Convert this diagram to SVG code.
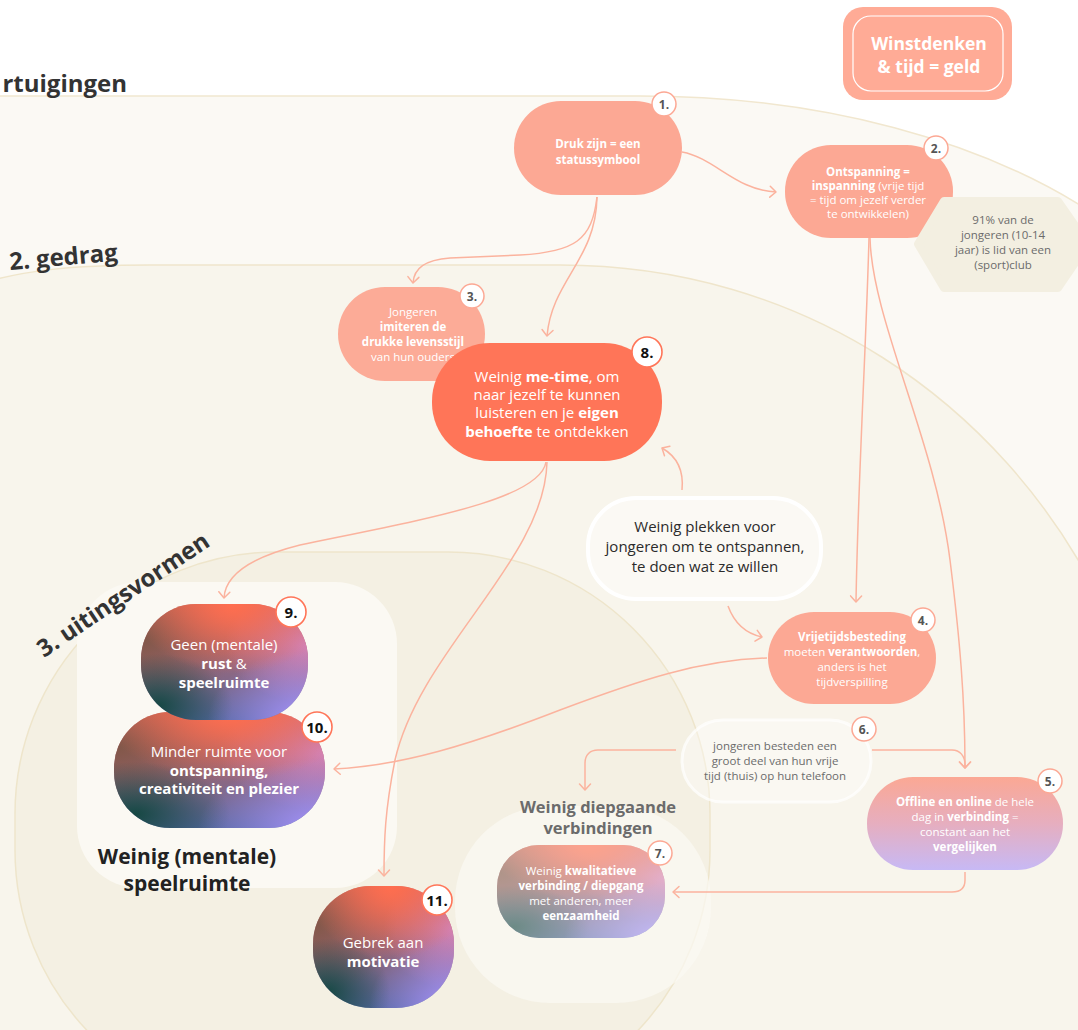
<svg xmlns="http://www.w3.org/2000/svg" width="1078" height="1030" viewBox="0 0 1078 1030">
  <defs>
    <style>
      text{font-family:"Open Sans","Liberation Sans",sans-serif;text-anchor:middle}
      .tn{fill:#fff;font-size:11.5px}
      .tb{fill:#fff;font-size:15px}
      .b{font-weight:700}
      .salmon{fill:#fca894}
      .badge circle{fill:#fff;stroke:#fca894;stroke-width:1.5}
      .badge text{font-size:12px;font-weight:700;fill:#555}
      .badge-l circle{fill:#fff;stroke:#ff7558;stroke-width:1.6}
      .badge-l text{font-size:15px;font-weight:700;fill:#111}
      .grey{fill:#6b6b6b;font-size:11.5px}
      .dark{fill:#2b2b2b;font-size:15px}
      .ltitle{font-size:24px;font-weight:700;fill:#333}
      #connectors path{fill:none;stroke:#fbb39e;stroke-width:1.5;marker-end:url(#arr)}
    </style>
    <marker id="arr" viewBox="-8 -7 10 14" markerWidth="10" markerHeight="14" refX="0" refY="0" orient="auto" markerUnits="userSpaceOnUse">
      <path d="M-6,-5.5 L0,0 L-6,5.5" fill="none" stroke="#fbb39e" stroke-width="1.5" stroke-linecap="round" stroke-linejoin="round"/>
    </marker>
    <!-- layered gradients for the dark blob nodes -->
    <linearGradient id="blobBase" x1="0" y1="0" x2="0" y2="1">
      <stop offset="0" stop-color="#d8685a"/>
      <stop offset="1" stop-color="#5668a0"/>
    </linearGradient>
    <radialGradient id="blobBrown" cx="0" cy="0.3" r="0.6">
      <stop offset="0" stop-color="#7e5646" stop-opacity="0.95"/>
      <stop offset="1" stop-color="#7e5646" stop-opacity="0"/>
    </radialGradient>
    <radialGradient id="blobPink" cx="1" cy="0.35" r="0.5">
      <stop offset="0" stop-color="#d383b8"/>
      <stop offset="1" stop-color="#d383b8" stop-opacity="0"/>
    </radialGradient>
    <radialGradient id="blobTeal" cx="0.1" cy="0.88" r="0.45">
      <stop offset="0" stop-color="#164843"/>
      <stop offset="1" stop-color="#164843" stop-opacity="0"/>
    </radialGradient>
    <radialGradient id="blobLav" cx="1" cy="1" r="0.6">
      <stop offset="0" stop-color="#ab95ff"/>
      <stop offset="1" stop-color="#ab95ff" stop-opacity="0"/>
    </radialGradient>
    <radialGradient id="blobTop" cx="0.55" cy="0" r="0.6">
      <stop offset="0" stop-color="#ff6e4f"/>
      <stop offset="1" stop-color="#ff6e4f" stop-opacity="0"/>
    </radialGradient>
    <linearGradient id="fade5" x1="0" y1="0" x2="0" y2="1">
      <stop offset="0" stop-color="#fba894"/>
      <stop offset="0.5" stop-color="#e6aebf"/>
      <stop offset="1" stop-color="#c7b9f5"/>
    </linearGradient>
    <rect id="s9" x="141" y="604" width="167" height="116" rx="55"/>
    <rect id="s10" x="114" y="712" width="211" height="116" rx="56"/>
    <rect id="s11" x="313" y="886" width="141" height="122" rx="58"/>
    <rect id="s7" x="497" y="845" width="168" height="93" rx="42"/>
  </defs>

  <!-- background layers -->
  <rect x="0" y="0" width="1078" height="1030" fill="#ffffff"/>
  <path d="M-20 96 H640 C820 96 985 140 1100 218 V1050 H-20 Z" fill="#fbf9f4" stroke="#f1e7cf" stroke-width="1.5"/>
  <path d="M-20 284 C20 271 70 265 150 265 H560 C800 265 1000 400 1100 600 V1050 H-20 Z" fill="#f8f5ec" stroke="#efe5cb" stroke-width="1.5"/>
  <rect x="15" y="552" width="695" height="560" rx="262" fill="#f4f0e3" stroke="#eee5cb" stroke-width="1.5"/>
  <rect x="77" y="582" width="320" height="306" rx="62" fill="#fbf9f3"/>
  <rect x="455" y="806" width="256" height="197" rx="95" fill="#fbf9f3" fill-opacity="0.7"/>

  <text class="ltitle" x="127" y="92" style="text-anchor:end">rtuigingen</text>
  <text class="ltitle" x="10" y="270" style="text-anchor:start" transform="rotate(-5 10 270)">2. gedrag</text>
  <text class="ltitle" x="44" y="658" style="text-anchor:start" transform="rotate(-34 44 658)">3. uitingsvormen</text>

  <text x="187" y="864" style="font-size:21px;font-weight:700;fill:#222">Weinig (mentale)</text>
  <text x="187" y="891" style="font-size:21px;font-weight:700;fill:#222">speelruimte</text>
  <text x="598" y="813" style="font-size:16.5px;font-weight:700;fill:#6b6b6b">Weinig diepgaande</text>
  <text x="598" y="834" style="font-size:16.5px;font-weight:700;fill:#6b6b6b">verbindingen</text>

  <!-- connectors -->
  <g id="connectors">
    <path d="M682 152 C715 158 735 190 776 192"/>
    <path d="M597 197 C592 240 575 252 520 255 L450 258 C425 260 414 268 413 283"/>
    <path d="M597 197 C596 260 552 280 547 336"/>
    <path d="M869 238 C866 350 858 480 856 602"/>
    <path d="M870 238 C872 320 935 440 950 560 C960 640 965 700 965 768"/>
    <path d="M546 462 C540 500 420 520 300 545 C240 560 225 580 224 598"/>
    <path d="M547 462 C545 560 420 650 395 760 C385 810 384 840 384 876"/>
    <path d="M682 490 C684 470 676 456 662 448"/>
    <path d="M728 606 C735 625 748 634 762 637"/>
    <path d="M767 658 C700 660 640 680 560 710 C470 745 400 766 334 769"/>
    <path d="M676 750 H598 C590 750 585 755 585 763 V790"/>
    <path d="M872 750 H952 C960 750 965 756 965 765 V768"/>
    <path d="M965 872 V880 C965 888 960 892 952 892 H673"/>
  </g>

  <!-- Winstdenken -->
  <g id="winstdenken">
    <rect x="843" y="7" width="169" height="93" rx="20" fill="#ffab96"/>
    <rect x="853" y="16" width="150" height="75" rx="18" fill="none" stroke="#fff" stroke-width="1.2"/>
    <text x="929" y="50" style="font-size:17.5px;font-weight:700;fill:#fff">Winstdenken</text>
    <text x="929" y="73" style="font-size:17.5px;font-weight:700;fill:#fff">&amp; tijd = geld</text>
  </g>

  <!-- 1 -->
  <g id="node1">
    <rect class="salmon" x="514" y="101" width="168" height="94" rx="47"/>
    <text class="tn b" x="598" y="148">Druk zijn = een</text>
    <text class="tn b" x="598" y="164">statussymbool</text>
    <g class="badge"><circle cx="664" cy="104" r="12"/><text x="664" y="108.5">1.</text></g>
  </g>

  <!-- 2 -->
  <g id="node2">
    <rect class="salmon" x="785" y="145" width="168" height="93" rx="46"/>
    <text class="tn" x="868" y="176"><tspan class="b">Ontspanning =</tspan></text>
    <text class="tn" x="868" y="190"><tspan class="b">inspanning</tspan> (vrije tijd</text>
    <text class="tn" x="868" y="204">= tijd om jezelf verder</text>
    <text class="tn" x="868" y="218">te ontwikkelen)</text>
    <g class="badge"><circle cx="936" cy="148" r="12"/><text x="936" y="152.5">2.</text></g>
  </g>

  <!-- side fact -->
  <g id="fact">
    <polygon points="918,244 944,201 1058,201 1088,244 1058,288 944,288" fill="#f3efe1" stroke="#f3efe1" stroke-width="8" stroke-linejoin="round"/>
    <text class="grey" x="1003" y="224">91% van de</text>
    <text class="grey" x="1003" y="239">jongeren (10-14</text>
    <text class="grey" x="1003" y="254">jaar) is lid van een</text>
    <text class="grey" x="1003" y="269">(sport)club</text>
  </g>

  <!-- 3 -->
  <g id="node3">
    <rect x="338" y="287" width="147" height="94" rx="47" fill="#fcab97"/>
    <text class="tn" x="413" y="316">Jongeren</text>
    <text class="tn b" x="413" y="331">imiteren de</text>
    <text class="tn b" x="413" y="346">drukke levensstijl</text>
    <text class="tn" x="413" y="361">van hun ouders</text>
    <g class="badge"><circle cx="472" cy="296" r="12"/><text x="472" y="300.5">3.</text></g>
  </g>

  <!-- 8 -->
  <g id="node8">
    <rect x="432" y="343" width="230" height="118" rx="58" fill="#ff7558"/>
    <text class="tb" x="547" y="382">Weinig <tspan class="b">me-time</tspan>, om</text>
    <text class="tb" x="547" y="400">naar jezelf te kunnen</text>
    <text class="tb" x="547" y="418">luisteren en je <tspan class="b">eigen</tspan></text>
    <text class="tb" x="547" y="437"><tspan class="b">behoefte</tspan> te ontdekken</text>
    <g class="badge-l"><circle cx="647" cy="352" r="15"/><text x="647" y="357.5">8.</text></g>
  </g>

  <!-- central cause -->
  <g id="plekken">
    <rect x="588" y="498" width="233" height="101" rx="48" fill="#fbf9f4" stroke="#ffffff" stroke-width="4"/>
    <text class="dark" x="705" y="532">Weinig plekken voor</text>
    <text class="dark" x="705" y="552">jongeren om te ontspannen,</text>
    <text class="dark" x="705" y="572">te doen wat ze willen</text>
  </g>

  <!-- 4 -->
  <g id="node4">
    <rect class="salmon" x="768" y="612" width="168" height="92" rx="46"/>
    <text class="tn b" x="852" y="641">Vrijetijdsbesteding</text>
    <text class="tn" x="852" y="656">moeten <tspan class="b">verantwoorden</tspan>,</text>
    <text class="tn" x="852" y="671">anders is het</text>
    <text class="tn" x="852" y="686">tijdverspilling</text>
    <g class="badge"><circle cx="923" cy="620" r="12"/><text x="923" y="624.5">4.</text></g>
  </g>

  <!-- 6 -->
  <g id="node6">
    <rect x="682" y="720" width="189" height="82" rx="41" fill="#ffffff" fill-opacity="0.35" stroke="#ffffff" stroke-opacity="0.7" stroke-width="3"/>
    <text class="grey" x="775" y="750">jongeren besteden een</text>
    <text class="grey" x="775" y="765">groot deel van hun vrije</text>
    <text class="grey" x="775" y="780">tijd (thuis) op hun telefoon</text>
    <g class="badge"><circle cx="864" cy="729" r="12"/><text x="864" y="733.5">6.</text></g>
  </g>

  <!-- 5 -->
  <g id="node5">
    <rect x="867" y="777" width="196" height="93" rx="46" fill="url(#fade5)"/>
    <text class="tn" x="965" y="806"><tspan class="b">Offline en online</tspan> de hele</text>
    <text class="tn" x="965" y="821">dag in <tspan class="b">verbinding</tspan> =</text>
    <text class="tn" x="965" y="836">constant aan het</text>
    <text class="tn b" x="965" y="851">vergelijken</text>
    <g class="badge"><circle cx="1050" cy="781" r="12"/><text x="1050" y="785.5">5.</text></g>
  </g>

  <!-- 7 -->
  <g id="node7">
    <use href="#s7" fill="#fbf9f4"/>
    <g opacity="0.62">
      <use href="#s7" fill="url(#blobBase)"/>
      <use href="#s7" fill="url(#blobBrown)"/>
      <use href="#s7" fill="url(#blobPink)"/>
      <use href="#s7" fill="url(#blobTeal)"/>
      <use href="#s7" fill="url(#blobLav)"/>
      <use href="#s7" fill="url(#blobTop)"/>
    </g>
    <text class="tn" x="581" y="875">Weinig <tspan class="b">kwalitatieve</tspan></text>
    <text class="tn b" x="581" y="890">verbinding / diepgang</text>
    <text class="tn" x="581" y="905">met anderen, meer</text>
    <text class="tn b" x="581" y="920">eenzaamheid</text>
    <g class="badge"><circle cx="660" cy="853" r="12"/><text x="660" y="857.5">7.</text></g>
  </g>

  <!-- 10 -->
  <g id="node10">
    <use href="#s10" fill="url(#blobBase)"/>
    <use href="#s10" fill="url(#blobBrown)"/>
    <use href="#s10" fill="url(#blobPink)"/>
    <use href="#s10" fill="url(#blobTeal)"/>
    <use href="#s10" fill="url(#blobLav)"/>
    <use href="#s10" fill="url(#blobTop)"/>
    <text class="tb" x="219" y="757">Minder ruimte voor</text>
    <text class="tb b" x="219" y="776">ontspanning,</text>
    <text class="tb b" x="219" y="794">creativiteit en plezier</text>
    <g class="badge-l"><circle cx="317" cy="727" r="15"/><text x="317" y="732.5">10.</text></g>
  </g>

  <!-- 9 -->
  <g id="node9">
    <use href="#s9" fill="url(#blobBase)"/>
    <use href="#s9" fill="url(#blobBrown)"/>
    <use href="#s9" fill="url(#blobPink)"/>
    <use href="#s9" fill="url(#blobTeal)"/>
    <use href="#s9" fill="url(#blobLav)"/>
    <use href="#s9" fill="url(#blobTop)"/>
    <text class="tb" x="224" y="650">Geen (mentale)</text>
    <text class="tb" x="224" y="669"><tspan class="b">rust</tspan> &amp;</text>
    <text class="tb b" x="224" y="688">speelruimte</text>
    <g class="badge-l"><circle cx="291" cy="612" r="15"/><text x="291" y="617.5">9.</text></g>
  </g>

  <!-- 11 -->
  <g id="node11">
    <use href="#s11" fill="url(#blobBase)"/>
    <use href="#s11" fill="url(#blobBrown)"/>
    <use href="#s11" fill="url(#blobPink)"/>
    <use href="#s11" fill="url(#blobTeal)"/>
    <use href="#s11" fill="url(#blobLav)"/>
    <use href="#s11" fill="url(#blobTop)"/>
    <text class="tb" x="383" y="948">Gebrek aan</text>
    <text class="tb b" x="383" y="967">motivatie</text>
    <g class="badge-l"><circle cx="437" cy="900" r="15"/><text x="437" y="905.5">11.</text></g>
  </g>
</svg>
